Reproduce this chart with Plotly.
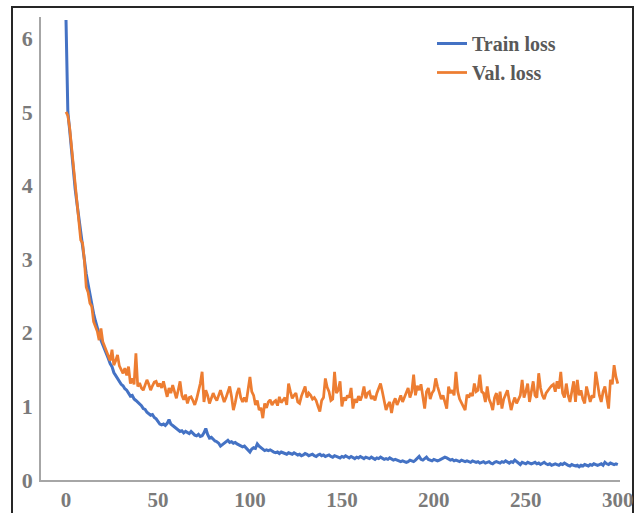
import plotly.graph_objects as go

epochs = list(range(0, 301))

train_loss = [
    6.25, 5.00, 4.75, 4.45, 4.20, 3.95, 3.75, 3.55, 3.35, 3.15,
    2.98, 2.80, 2.66, 2.52, 2.38, 2.26, 2.16, 2.05, 1.98, 1.90,
    1.83, 1.76, 1.72, 1.65, 1.58, 1.54, 1.46, 1.42, 1.38, 1.33,
    1.30, 1.28, 1.24, 1.22, 1.18, 1.14, 1.15, 1.10, 1.08, 1.06,
    1.03, 1.01, 0.97, 0.96, 0.92, 0.90, 0.88, 0.89, 0.85, 0.83,
    0.79, 0.76, 0.75, 0.76, 0.74, 0.77, 0.82, 0.76, 0.74, 0.72,
    0.70, 0.68, 0.66, 0.67, 0.64, 0.66, 0.65, 0.63, 0.66, 0.63,
    0.61, 0.60, 0.62, 0.59, 0.60, 0.64, 0.70, 0.62, 0.57, 0.58,
    0.55, 0.53, 0.52, 0.50, 0.46, 0.48, 0.50, 0.53, 0.54, 0.51,
    0.52, 0.50, 0.51, 0.49, 0.48, 0.47, 0.45, 0.46, 0.43, 0.41,
    0.38, 0.42, 0.44, 0.43, 0.49, 0.46, 0.44, 0.42, 0.40, 0.41,
    0.40, 0.41, 0.39, 0.38, 0.37, 0.38, 0.36, 0.38, 0.37, 0.36,
    0.35, 0.37, 0.36, 0.35, 0.37, 0.35, 0.34, 0.35, 0.33, 0.34,
    0.36, 0.35, 0.33, 0.34, 0.35, 0.33, 0.32, 0.34, 0.35, 0.33,
    0.34, 0.32, 0.33, 0.34, 0.32, 0.31, 0.33, 0.32, 0.31, 0.30,
    0.32, 0.31, 0.33, 0.31, 0.30, 0.32, 0.31, 0.29, 0.31, 0.30,
    0.32, 0.30, 0.29, 0.31, 0.30, 0.29, 0.31, 0.30, 0.28, 0.30,
    0.29, 0.31, 0.30, 0.28, 0.29, 0.28, 0.30, 0.29, 0.27, 0.28,
    0.27, 0.26, 0.25, 0.26, 0.25, 0.24, 0.25, 0.27, 0.26, 0.25,
    0.27, 0.29, 0.32, 0.28, 0.27, 0.29, 0.31, 0.28, 0.27, 0.26,
    0.28, 0.27, 0.26, 0.27, 0.28, 0.29, 0.31, 0.30, 0.29, 0.27,
    0.28, 0.26, 0.27, 0.26, 0.25, 0.27, 0.26, 0.25, 0.26, 0.25,
    0.24, 0.26, 0.25, 0.24, 0.25, 0.23, 0.24, 0.25, 0.23, 0.24,
    0.25, 0.23, 0.22, 0.24, 0.25, 0.24, 0.23, 0.25, 0.24, 0.26,
    0.24, 0.23, 0.25, 0.24, 0.27, 0.25, 0.23, 0.21, 0.24, 0.23,
    0.22, 0.24, 0.23, 0.22, 0.23, 0.24, 0.22, 0.23, 0.21, 0.22,
    0.24, 0.22, 0.21, 0.22, 0.20, 0.21, 0.22, 0.21, 0.20, 0.22,
    0.21, 0.23, 0.21, 0.20, 0.19, 0.21, 0.20, 0.19, 0.20, 0.18,
    0.20, 0.19, 0.21, 0.20, 0.19, 0.21, 0.20, 0.22, 0.21, 0.20,
    0.21, 0.22, 0.20, 0.24, 0.22, 0.21, 0.23, 0.22, 0.21, 0.22,
    0.21,
]

val_loss = [
    5.00, 4.95, 4.78, 4.52, 4.25, 4.00, 3.78, 3.52, 3.26, 3.22,
    2.98, 2.62, 2.55, 2.40, 2.36, 2.15, 2.08, 2.02, 1.90, 2.06,
    1.88, 1.81, 1.76, 1.70, 1.62, 1.77, 1.56, 1.62, 1.70, 1.55,
    1.49, 1.45, 1.52, 1.42, 1.54, 1.31, 1.38, 1.30, 1.72, 1.27,
    1.32, 1.25, 1.22, 1.28, 1.36, 1.30, 1.22, 1.28, 1.33, 1.34,
    1.27, 1.31, 1.25, 1.34, 1.22, 1.13, 1.25, 1.18, 1.29, 1.20,
    1.11, 1.22, 1.34, 1.15, 1.09, 1.16, 1.04, 1.12, 1.13, 1.08,
    1.02, 1.10, 1.20, 1.31, 1.47, 1.06, 1.22, 1.15, 1.04, 1.10,
    1.18, 1.12, 1.08, 1.15, 1.22, 1.14, 1.06, 1.12, 1.20, 1.27,
    1.13, 0.95, 1.05, 1.18, 1.25, 1.12, 1.06, 1.12, 1.06, 1.22,
    1.40, 1.20, 1.15, 1.02, 1.08, 0.95, 0.98, 0.84, 1.04, 0.98,
    1.06, 1.09, 1.02, 1.06, 1.08, 1.01, 1.13, 1.05, 1.08, 1.12,
    1.02, 1.31, 1.20, 1.11, 1.15, 1.18, 1.06, 1.04, 1.14, 1.20,
    1.27, 1.12, 1.18, 1.15, 1.10, 1.12, 1.08, 1.00, 0.93, 1.08,
    1.12, 1.38, 1.26, 1.20, 1.08, 1.10, 1.47, 1.18, 1.22, 1.34,
    1.00, 1.12, 1.08, 1.15, 1.12, 1.25, 0.97, 1.10, 1.05, 1.14,
    1.08, 1.15, 1.27, 1.11, 1.18, 1.20, 1.10, 1.14, 1.08, 1.18,
    1.24, 1.31, 1.20, 1.05, 0.95, 1.02, 1.06, 0.91, 1.05, 1.11,
    1.02, 1.08, 1.15, 1.06, 1.12, 1.18, 1.25, 1.12, 1.20, 1.43,
    1.15, 1.28, 1.22, 1.30, 1.12, 0.97, 1.20, 1.25, 1.10, 1.18,
    1.22, 1.38, 1.27, 1.20, 1.10, 1.15, 1.05, 0.97, 1.27, 1.18,
    1.22, 1.15, 1.47, 1.20, 1.10, 1.05, 1.00, 0.95, 1.16, 1.12,
    1.18, 1.14, 1.31, 1.20, 1.22, 1.43, 1.20, 1.18, 1.06, 1.27,
    1.10, 1.04, 0.95, 1.12, 1.18, 1.02, 1.20, 0.97, 1.10, 1.15,
    1.22, 1.08, 0.95, 1.05, 1.12, 1.04, 1.10, 1.15, 1.36, 1.12,
    1.20, 1.31, 1.06, 1.18, 1.34, 1.15, 1.12, 1.45, 1.25, 1.15,
    1.10, 1.18, 1.22, 1.25, 1.28, 1.30, 1.20, 1.34, 1.24, 1.47,
    1.18, 1.12, 1.31, 1.15, 1.06, 1.20, 1.34, 1.06, 1.36, 1.15,
    1.22, 1.10, 1.04, 1.27, 1.15, 1.06, 1.15, 1.12, 1.47, 1.30,
    1.15, 1.06, 1.20, 1.27, 1.14, 0.97, 1.36, 1.30, 1.56, 1.40,
    1.31,
]

x_ticks = [0, 50, 100, 150, 200, 250, 300]
y_ticks = [0, 1, 2, 3, 4, 5, 6]

W, H = 642, 513
L, R, T, B = 41, 22, 17, 33
pw, ph = W - L - R, H - T - B

def px_to_paper_x(p):
    return (p - L) / pw

def px_to_paper_y(p):
    return (H - B - p) / ph

font_fam = "Liberation Serif"
tick_color = "#7a7a7a"

fig = go.Figure()
fig.add_trace(go.Scatter(x=epochs, y=train_loss, mode="lines", name="Train loss",
                         line=dict(color="#4472C4", width=3)))
fig.add_trace(go.Scatter(x=epochs, y=val_loss, mode="lines", name="Val. loss",
                         line=dict(color="#ED7D31", width=2.75)))

fig.update_layout(
    width=W, height=H,
    margin=dict(l=L, r=R, t=T, b=B, pad=0, autoexpand=False),
    paper_bgcolor="white", plot_bgcolor="white",
    showlegend=True,
    legend=dict(x=px_to_paper_x(432), y=px_to_paper_y(24), xanchor="left", yanchor="top",
                bgcolor="rgba(0,0,0,0)", tracegroupgap=0,
                font=dict(family=font_fam, size=20, color="#595959", weight="bold")),
    xaxis=dict(range=[-13.6, 301.2], tickvals=x_ticks, showgrid=False, zeroline=False,
               showline=True, linecolor="#a6a6a6", linewidth=1.5, ticks="",
               ticklabelstandoff=0, automargin=False,
               tickfont=dict(family=font_fam, size=21, color=tick_color, weight="bold")),
    yaxis=dict(range=[0, 6.29], tickvals=y_ticks, showgrid=False, zeroline=False,
               showline=True, linecolor="#a6a6a6", linewidth=1.5, ticks="",
               ticklabelstandoff=2, automargin=False,
               tickfont=dict(family=font_fam, size=22, color=tick_color, weight="bold")),
    shapes=[dict(type="rect", xref="paper", yref="paper",
                 x0=px_to_paper_x(12), x1=px_to_paper_x(633),
                 y0=px_to_paper_y(520), y1=px_to_paper_y(7),
                 line=dict(color="#262626", width=2), fillcolor="rgba(0,0,0,0)",
                 layer="below")],
)

fig.write_html("out.html", config={"displayModeBar": False},
               post_script="document.body.style.margin='0';document.body.style.overflow='hidden';")
